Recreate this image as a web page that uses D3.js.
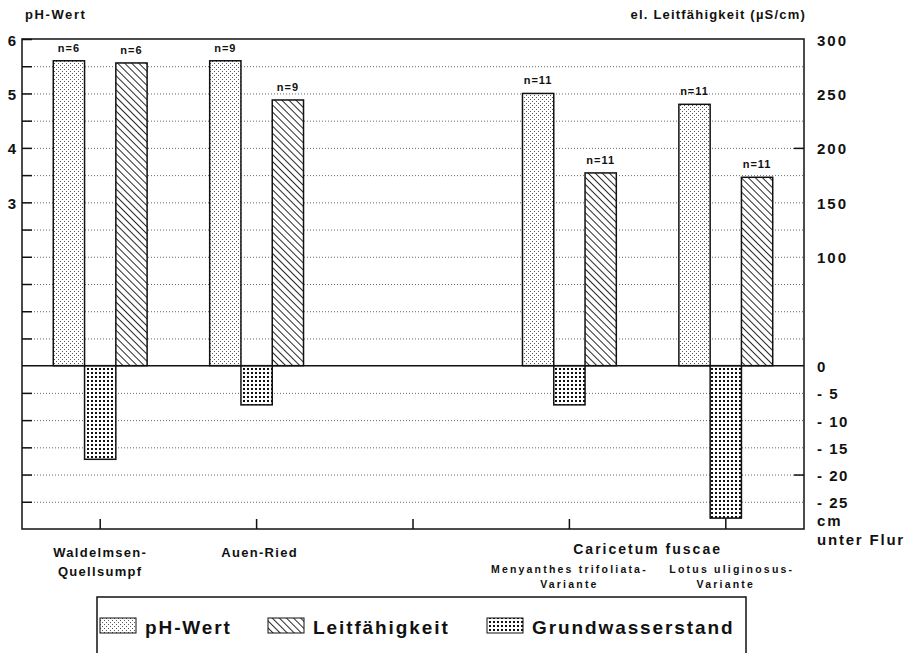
<!DOCTYPE html>
<html>
<head>
<meta charset="utf-8">
<script src="https://cdn.jsdelivr.net/npm/d3@7"></script>
<style>
  body { margin: 0; background: #fff; }
  svg text { font-family: "Liberation Sans", Arial, sans-serif; font-weight: bold; fill: #111; }
  .grid line { stroke: #666; stroke-width: 1; stroke-dasharray: 1,2; }
  .grid path { display: none; }
  .axis path { display: none; }
  .axis line { stroke: #111; stroke-width: 1.5; }
</style>
</head>
<body>
<div id="chart"></div>
<script>

// data
var categories = ["Waldelmsen-Quellsumpf", "Auen-Ried", "", "Menyanthes", "Lotus"];
var phWerte = [5.6, 5.6, null, 5.0, 4.8];
var leitWerte = [278, 244, null, 177, 173];
var grundWasser = [-17.2, -7.2, null, -7.2, -28];
var nWerte = ["n=6", "n=9", null, "n=11", "n=11"];

var phTicks = [3, 4, 5, 6];
var leitTicks = [300, 250, 200, 150, 100, 0];
var wasserTicks = [-5, -10, -15, -20, -25];

var legendItems = ["pH-Wert", "Leitfähigkeit", "Grundwasserstand"];

var width = 913, height = 653;
var margin = { top: 39, right: 109, bottom: 124, left: 22 };
var plotW = width - margin.left - margin.right,
    plotH = height - margin.top - margin.bottom;

var svg = d3.select("#chart").append("svg")
    .attr("width", width)
    .attr("height", height);

var defs = svg.append("defs");

// fine stipple for pH
var p1 = defs.append("pattern").attr("id", "pat-ph")
    .attr("patternUnits", "userSpaceOnUse").attr("width", 4).attr("height", 4);
p1.append("rect").attr("width", 4).attr("height", 4).attr("fill", "#fff");
p1.append("rect").attr("x", 0).attr("y", 0).attr("width", 1).attr("height", 1).attr("fill", "#555");
p1.append("rect").attr("x", 2).attr("y", 2).attr("width", 1).attr("height", 1).attr("fill", "#555");

// diagonal hatching for conductivity
var p2 = defs.append("pattern").attr("id", "pat-leit")
    .attr("patternUnits", "userSpaceOnUse").attr("width", 5).attr("height", 5)
    .attr("patternTransform", "rotate(-45)");
p2.append("rect").attr("width", 5).attr("height", 5).attr("fill", "#fff");
p2.append("line").attr("x1", 0).attr("y1", 0).attr("x2", 0).attr("y2", 5)
    .attr("stroke", "#111").attr("stroke-width", 1.8);

// coarse dots for groundwater
var p3 = defs.append("pattern").attr("id", "pat-wasser")
    .attr("patternUnits", "userSpaceOnUse").attr("width", 4).attr("height", 4);
p3.append("rect").attr("width", 4).attr("height", 4).attr("fill", "#fff");
p3.append("rect").attr("x", 1).attr("y", 1).attr("width", 2).attr("height", 2).attr("fill", "#111");

var g = svg.append("g").attr("transform", "translate(" + margin.left + "," + margin.top + ")");

// scales: one grid unit = 0.5 pH = 25 µS/cm = 5 cm
var yUnit = d3.scaleLinear().domain([-6, 12]).range([plotH, 0]);
var yPh = d3.scaleLinear().domain([0, 6]).range([yUnit(0), yUnit(12)]);
var yLeit = d3.scaleLinear().domain([0, 300]).range([yUnit(0), yUnit(12)]);
var yWasser = d3.scaleLinear().domain([-30, 0]).range([yUnit(-6), yUnit(0)]);

var x = d3.scaleBand().domain(d3.range(categories.length)).range([0, plotW]);
var bw = x.bandwidth() * 0.2;

// dotted grid
var gridPh = d3.range(0.5, 6, 0.5);
g.append("g").attr("class", "grid")
    .call(d3.axisLeft(yPh).tickValues(gridPh).tickSize(-plotW).tickFormat(""));
g.append("g").attr("class", "grid")
    .call(d3.axisLeft(yWasser).tickValues(wasserTicks).tickSize(-plotW).tickFormat(""));

// left axis (pH) ticks inward
g.append("g").attr("class", "axis")
    .call(d3.axisLeft(yPh).tickValues(gridPh.concat([6])).tickSizeInner(-10).tickSizeOuter(0).tickPadding(6)
      .tickFormat(function (d) { return phTicks.indexOf(d) >= 0 ? d : ""; }))
    .selectAll("text").style("font-size", "15px").attr("dy", "0.4em");
g.append("g").attr("class", "axis")
    .call(d3.axisLeft(yWasser).tickValues(wasserTicks).tickSizeInner(-10).tickSizeOuter(0).tickFormat(""));

// right axis (conductivity + groundwater)
var rAxis = g.append("g").attr("class", "axis").attr("transform", "translate(" + plotW + ",0)")
    .call(d3.axisRight(yLeit).tickValues(leitTicks).tickSizeInner(0).tickSizeOuter(0).tickPadding(13));
rAxis.selectAll("text").style("font-size", "15px").style("letter-spacing", "2px").attr("dy", "0.4em");
var wAxis = g.append("g").attr("class", "axis").attr("transform", "translate(" + plotW + ",0)")
    .call(d3.axisRight(yWasser).tickValues(wasserTicks).tickSizeInner(0).tickSizeOuter(0).tickPadding(13)
      .tickFormat(function (d) { return "- " + Math.abs(d); }));
wAxis.selectAll("text").style("font-size", "15px").style("letter-spacing", "1.5px").attr("dy", "0.4em");
g.append("g").attr("class", "axis").attr("transform", "translate(" + plotW + ",0)")
    .call(d3.axisRight(yLeit).tickValues([200]).tickSizeInner(-10).tickSizeOuter(0).tickFormat(""));
g.append("g").attr("class", "axis").attr("transform", "translate(" + plotW + ",0)")
    .call(d3.axisRight(yWasser).tickValues([-20]).tickSizeInner(-10).tickSizeOuter(0).tickFormat(""));

// bars
var idx = d3.range(categories.length).filter(function (i) { return phWerte[i] != null; });

g.selectAll(".bar-ph").data(idx).enter().append("rect")
    .attr("class", "bar-ph")
    .attr("x", function (i) { return x(i) + x.bandwidth() / 2 - 1.5 * bw; })
    .attr("y", function (i) { return yPh(phWerte[i]); })
    .attr("width", bw)
    .attr("height", function (i) { return yPh(0) - yPh(phWerte[i]); })
    .attr("fill", "url(#pat-ph)").attr("stroke", "#111").attr("stroke-width", 1.5);

g.selectAll(".bar-wasser").data(idx).enter().append("rect")
    .attr("class", "bar-wasser")
    .attr("x", function (i) { return x(i) + x.bandwidth() / 2 - 0.5 * bw; })
    .attr("y", yWasser(0))
    .attr("width", bw)
    .attr("height", function (i) { return yWasser(grundWasser[i]) - yWasser(0); })
    .attr("fill", "url(#pat-wasser)").attr("stroke", "#111").attr("stroke-width", 1.5);

g.selectAll(".bar-leit").data(idx).enter().append("rect")
    .attr("class", "bar-leit")
    .attr("x", function (i) { return x(i) + x.bandwidth() / 2 + 0.5 * bw; })
    .attr("y", function (i) { return yLeit(leitWerte[i]); })
    .attr("width", bw)
    .attr("height", function (i) { return yLeit(0) - yLeit(leitWerte[i]); })
    .attr("fill", "url(#pat-leit)").attr("stroke", "#111").attr("stroke-width", 1.5);

// n labels
g.selectAll(".n-ph").data(idx).enter().append("text")
    .attr("x", function (i) { return x(i) + x.bandwidth() / 2 - bw; })
    .attr("y", function (i) { return yPh(phWerte[i]) - 9; })
    .attr("text-anchor", "middle").style("font-size", "11px").style("letter-spacing", "1px")
    .text(function (i) { return nWerte[i]; });
g.selectAll(".n-leit").data(idx).enter().append("text")
    .attr("x", function (i) { return x(i) + x.bandwidth() / 2 + bw; })
    .attr("y", function (i) { return yLeit(leitWerte[i]) - 9; })
    .attr("text-anchor", "middle").style("font-size", "11px").style("letter-spacing", "1px")
    .text(function (i) { return nWerte[i]; });

// zero line and frame
g.append("line").attr("x1", 0).attr("x2", plotW).attr("y1", yUnit(0)).attr("y2", yUnit(0))
    .attr("stroke", "#111").attr("stroke-width", 1.5);
g.append("rect").attr("width", plotW).attr("height", plotH)
    .attr("fill", "none").attr("stroke", "#111").attr("stroke-width", 1.5);

// category ticks
g.append("g").attr("class", "axis").attr("transform", "translate(0," + plotH + ")")
    .call(d3.axisBottom(x).tickSizeInner(-10).tickSizeOuter(0).tickFormat(""));

// axis titles
svg.append("text").attr("x", 25).attr("y", 19).style("font-size", "13px").style("letter-spacing", "1.6px")
    .text("pH-Wert");
svg.append("text").attr("x", 806).attr("y", 19).attr("text-anchor", "end")
    .style("font-size", "13px").style("letter-spacing", "1.2px")
    .text("el. Leitfähigkeit (µS/cm)");
svg.append("text").attr("x", margin.left + plotW + 13).attr("y", 526)
    .style("font-size", "15px").style("letter-spacing", "1.8px").text("cm");
svg.append("text").attr("x", margin.left + plotW + 13).attr("y", 545)
    .style("font-size", "15px").style("letter-spacing", "1.8px").text("unter Flur");

// category labels
function cx(i) { return margin.left + x(i) + x.bandwidth() / 2; }
var catLab = svg.append("g").style("font-size", "13px").style("letter-spacing", "1.3px")
    .attr("text-anchor", "middle");
catLab.append("text").attr("x", cx(0)).attr("y", 557).text("Waldelmsen-");
catLab.append("text").attr("x", cx(0)).attr("y", 576).text("Quellsumpf");
catLab.append("text").attr("x", cx(1) + 3).attr("y", 557).text("Auen-Ried");
catLab.append("text").attr("x", (cx(3) + cx(4)) / 2).attr("y", 554)
    .style("font-size", "14px").style("letter-spacing", "2px").text("Caricetum fuscae");
var subLab = svg.append("g").style("font-size", "10.5px").style("letter-spacing", "2.2px")
    .attr("text-anchor", "middle");
subLab.append("text").attr("x", cx(3)).attr("y", 573).text("Menyanthes trifoliata-");
subLab.append("text").attr("x", cx(3)).attr("y", 588).text("Variante");
subLab.append("text").attr("x", cx(4) + 6).attr("y", 573).text("Lotus uliginosus-");
subLab.append("text").attr("x", cx(4)).attr("y", 588).text("Variante");

// legend
var leg = svg.append("g");
leg.append("rect").attr("x", 97).attr("y", 597).attr("width", 649).attr("height", 80)
    .attr("fill", "none").attr("stroke", "#111").attr("stroke-width", 1.5);
var legX = [100, 268, 487];
var legPat = ["url(#pat-ph)", "url(#pat-leit)", "url(#pat-wasser)"];
legendItems.forEach(function (name, i) {
  leg.append("rect").attr("x", legX[i]).attr("y", 618).attr("width", 36).attr("height", 15)
      .attr("fill", legPat[i]).attr("stroke", "#111").attr("stroke-width", 1);
  leg.append("text").attr("x", legX[i] + 45).attr("y", 634)
      .style("font-size", "19px").style("letter-spacing", "1.9px").text(name);
});

</script>
</body>
</html>
